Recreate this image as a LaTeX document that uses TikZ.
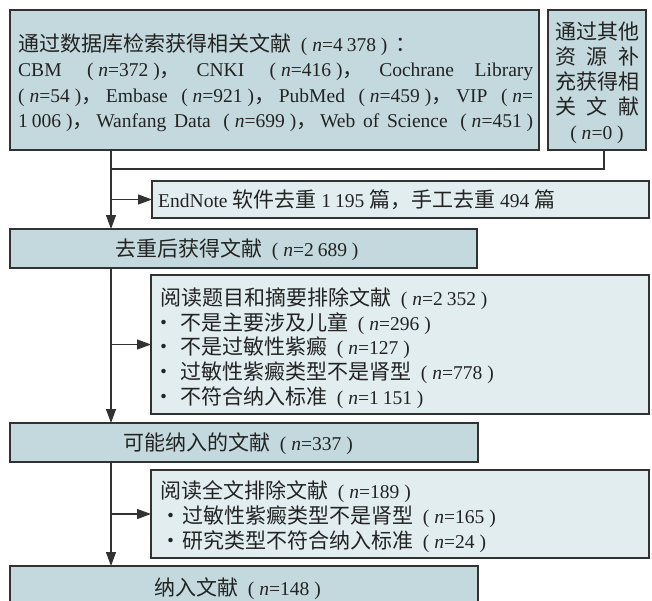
\documentclass[tikz,border=0pt]{standalone}
\usepackage{fontspec}
\setmainfont{Liberation Serif}[Scale=0.93]
\newfontfamily\cjkf{Noto Sans CJK SC}
\usetikzlibrary{arrows.meta}
\definecolor{mainfill}{RGB}{196,217,221}
\definecolor{sidefill}{RGB}{225,237,239}
\definecolor{bd}{RGB}{50,50,50}
\definecolor{tx}{RGB}{35,35,35}
\newcommand\qZ[1]{{\cjkf #1}}
\newcommand\qLP{\hspace{0.5em plus 1fil}(\hspace{0.25em}}
\newcommand\qLPs{(\hspace{0.25em}}
\newcommand\qRP{\hspace{0.25em})}
\newcommand\qCM{{\cjkf ，}\hspace{0pt plus 1fil}}
\newcommand\qN{\textit{n}=}
\newcommand\qT{\hspace{0.2em}}
\newcommand\qG{\hspace{0.25em plus 1fil}}
\newcommand\qBa{\makebox[20pt][l]{\hspace{-7pt}\qZ{・}}}
\newcommand\qBb{\makebox[22pt][l]{\hspace{0pt}\qZ{・}}}
\tikzset{
  boxm/.style={draw=bd, fill=mainfill, line width=1.1pt, inner sep=0pt, outer sep=0pt},
  boxs/.style={draw=bd, fill=sidefill, line width=1.1pt, inner sep=0pt, outer sep=0pt},
  txt/.style={anchor=base west, inner sep=0pt, text=tx, font=\fontsize{21pt}{25pt}\selectfont},
  txtc/.style={txt, anchor=base},
  conn/.style={draw=bd, line width=1.1pt},
  arr/.style={conn, -{Triangle[length=14pt,width=10pt]}}
}
\begin{document}
\begin{tikzpicture}[x=1pt,y=-1pt]
\useasboundingbox (0,0) rectangle (652,600);
% boxes
\node[boxm, minimum width=529pt, minimum height=140pt] (b1) at (274.5,80) {};
\node[boxm, minimum width=98pt, minimum height=140pt] (b2) at (597,80) {};
\node[boxs, minimum width=497pt, minimum height=37pt] (bE) at (400.5,199.5) {};
\node[boxm, minimum width=467pt, minimum height=39pt] (b3) at (243.5,248.5) {};
\node[boxs, minimum width=498pt, minimum height=139pt] (b4) at (400,344.5) {};
\node[boxm, minimum width=468pt, minimum height=39pt] (b5) at (244,442.5) {};
\node[boxs, minimum width=498pt, minimum height=88pt] (b6) at (400,514) {};
\node[boxm, minimum width=468pt, minimum height=40pt] (b7) at (244,586) {};
% texts box 1
\node[txt] (t1a) at (18,51) {\qZ{通过数据库检索获得相关文献}\qLP\qN 4\qT378\qRP\hspace{0.4em}\qZ{：}};
\node[txt] (t1b) at (18,76.5) {\makebox[515pt][s]{CBM\qLP\qN 372\qRP\qCM CNKI\qLP\qN 416\qRP\qCM Cochrane\qG Library}};
\node[txt] (t1c) at (18,102) {\makebox[515pt][s]{\qLPs\qN 54\qRP\qCM Embase\qLP\qN 921\qRP\qCM PubMed\qLP\qN 459\qRP\qCM VIP\qLP\qN}};
\node[txt] (t1d) at (18,127.5) {\makebox[515pt][s]{1\qT006\qRP\qCM Wanfang\qG Data\qLP\qN 699\qRP\qCM Web\qG of\qG Science\qLP\qN 451\qRP}};
% box 2
\node[txtc] (t2a) at (597,39.5) {\qZ{通过其他}};
\node[txtc] (t2b) at (597,64.5) {\makebox[84pt][s]{\qZ{资}\hfil\qZ{源}\hfil\qZ{补}}};
\node[txtc] (t2c) at (597,89.5) {\qZ{充获得相}};
\node[txtc] (t2d) at (597,114.5) {\makebox[84pt][s]{\qZ{关}\hfil\qZ{文}\hfil\qZ{献}}};
\node[txtc] (t2e) at (597,139.5) {\qLPs\qN 0\qRP};
% EndNote
\node[txt] (tE) at (158,207) {EndNote \qZ{软件去重} 1\qT195 \qZ{篇，手工去重} 494 \qZ{篇}};
% box 3
\node[txt] (t3) at (115,256) {\qZ{去重后获得文献}\qLP\qN 2\qT689\qRP};
% box 4
\node[txt] (t4a) at (160,305) {\qZ{阅读题目和摘要排除文献}\qLP\qN 2\qT352\qRP};
\node[txt] (t4b) at (160,330) {\qBa\qZ{不是主要涉及儿童}\qLP\qN 296\qRP};
\node[txt] (t4c) at (160,354.5) {\qBa\qZ{不是过敏性紫癜}\qLP\qN 127\qRP};
\node[txt] (t4d) at (160,379) {\qBa\qZ{过敏性紫癜类型不是肾型}\qLP\qN 778\qRP};
\node[txt] (t4e) at (160,404) {\qBa\qZ{不符合纳入标准}\qLP\qN 1\qT151\qRP};
% box 5
\node[txt] (t5) at (123,450) {\qZ{可能纳入的文献}\qLP\qN 337\qRP};
% box 6
\node[txt] (t6a) at (160,498) {\qZ{阅读全文排除文献}\qLP\qN 189\qRP};
\node[txt] (t6b) at (160,523) {\qBb\qZ{过敏性紫癜类型不是肾型}\qLP\qN 165\qRP};
\node[txt] (t6c) at (160,548) {\qBb\qZ{研究类型不符合纳入标准}\qLP\qN 24\qRP};
% box 7
\node[txt] (t7) at (154,595) {\qZ{纳入文献}\qLP\qN 148\qRP};
% connectors
\coordinate (t) at (111,0);
\coordinate (c2) at (604,169);
\draw[conn] (c2 |- b2.south) -- (c2) -- (t |- c2);
\draw[arr] (t |- b1.south) -- (t |- b3.north);
\draw[arr] (t |- bE.west) -- (bE.west);
\draw[arr] (t |- b3.south) -- (t |- b5.north);
\draw[arr] (t |- b4.west) -- (b4.west);
\draw[arr] (t |- b5.south) -- (t |- b7.north);
\draw[arr] (t |- b6.west) -- (b6.west);
\end{tikzpicture}
\end{document}
